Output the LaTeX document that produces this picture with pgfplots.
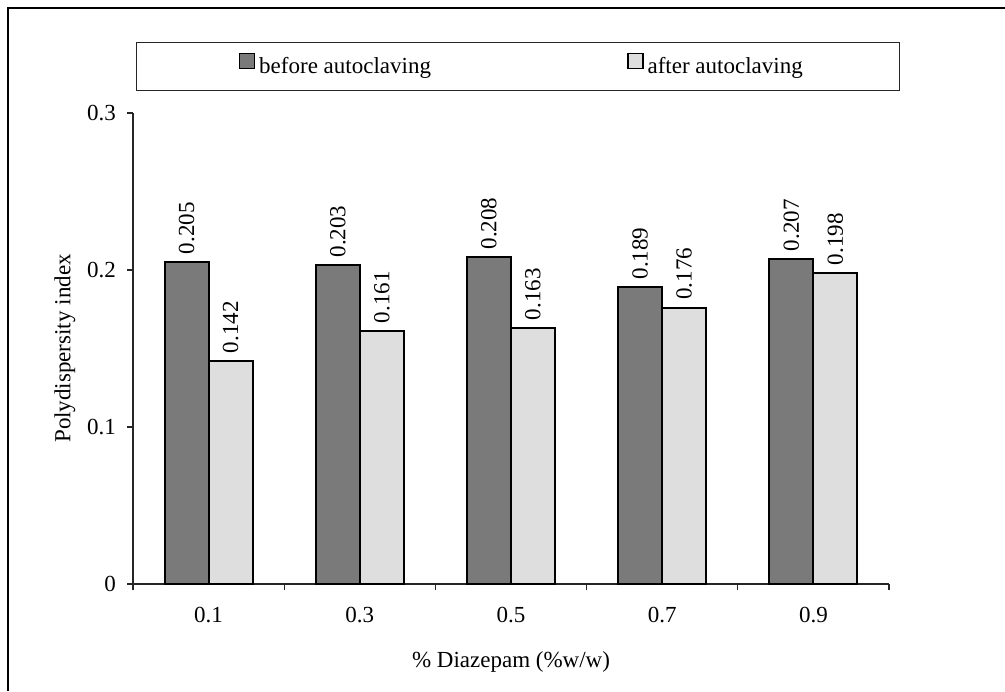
\documentclass[border=0pt]{standalone}
\usepackage{pgfplots}
\pgfplotsset{compat=1.18}
\usepackage{fontspec}
\setmainfont{Liberation Serif}

\definecolor{darkbar}{RGB}{122,122,122}
\definecolor{lightbar}{RGB}{222,222,222}

\pgfplotstableread{
x before after
0 0.205 0.142
1 0.203 0.161
2 0.208 0.163
3 0.189 0.176
4 0.207 0.198
}\pdidata

\newcommand{\chartfont}{\fontsize{11.5}{13.5}\selectfont}

\begin{document}
\begin{tikzpicture}
\path[use as bounding box] (0,0) rectangle (502.5pt,345.5pt);
% outer frame (left and top edges)
\draw[line width=1pt] (4pt,0) -- (4pt,341.5pt) -- (502.5pt,341.5pt);
\begin{axis}[
  at={(66.5pt,53.5pt)}, anchor=south west,
  scale only axis, width=378pt, height=235.5pt,
  xmin=-0.5, xmax=4.5, ymin=0, ymax=0.3,
  axis lines*=left,
  axis line style={line width=0.6pt, black!85},
  ytick={0,0.1,0.2,0.3}, yticklabels={0,0.1,0.2,0.3},
  xtick={0,1,2,3,4}, xticklabels={0.1,0.3,0.5,0.7,0.9},
  minor xtick={-0.5,0.5,1.5,2.5,3.5,4.5},
  major x tick style={draw=none},
  tick align=outside,
  major tick length=3pt, minor tick length=3pt,
  tick style={black!85, line width=0.6pt},
  every tick label/.append style={font=\chartfont},
  xticklabel style={yshift=-5pt},
  yticklabel style={xshift=-2pt},
  label style={font=\chartfont},
  xlabel={\% Diazepam (\%w/w)},
  ylabel={Polydispersity index},
  xlabel style={at={(axis description cs:0.5,-0.1656)}, anchor=center},
  ylabel style={at={(axis description cs:-0.09,0.5)}, anchor=center, rotate=0},
  ybar=0pt, bar width=22pt,
  nodes near coords={\pgfmathprintnumber[fixed,fixed zerofill,precision=3,assume math mode=true]{\pgfplotspointmeta}},
  every node near coord/.append style={rotate=90, anchor=west, font=\chartfont, inner xsep=3.5pt, inner ysep=2pt, black},
  legend columns=2,
  legend image code/.code={\path (0pt,0pt); \draw[#1, line width=0.6pt] (4.5pt,-0.5pt) rectangle (12pt,7pt);},
  legend style={
    at={(axis description cs:0.004,1.1507)}, anchor=north west,
    draw=black!85, line width=0.6pt,
    font=\chartfont,
    inner xsep=46.5pt, inner ysep=5pt,
    /tikz/every even column/.append style={column sep=91.5pt},
  },
]
\addplot[draw=black, line width=1pt, fill=darkbar] table[x=x, y=before] {\pdidata};
\addlegendentry{before autoclaving}
\addplot[draw=black, line width=1pt, fill=lightbar] table[x=x, y=after] {\pdidata};
\addlegendentry{after autoclaving}
\end{axis}
\end{tikzpicture}
\end{document}
